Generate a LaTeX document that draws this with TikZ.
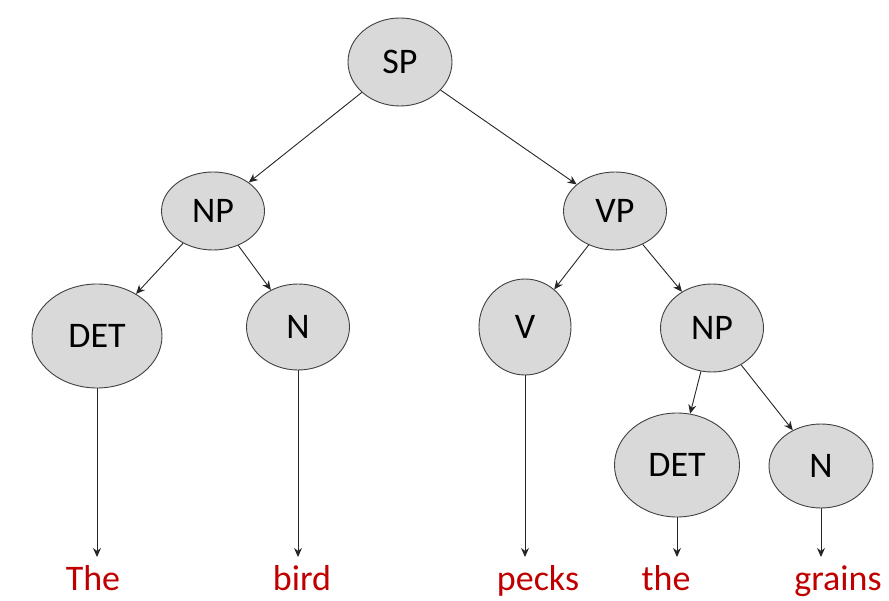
\documentclass[tikz,border=0pt]{standalone}
\usepackage{fontspec}
\setmainfont{Carlito}
\usetikzlibrary{arrows.meta,shapes.geometric}
\definecolor{nodefill}{HTML}{D9D9D9}
\definecolor{wordred}{HTML}{C00000}
\tikzset{
  cat/.style={ellipse, draw=black!75, line width=0.9pt, fill=nodefill, inner sep=0pt, font=\fontsize{36}{36}\selectfont},
  word/.style={text=wordred, inner sep=0pt, anchor=base, font=\fontsize{36}{36}\selectfont},
  edge/.style={draw=black!85, line width=0.9pt, -{Stealth[length=9pt,width=8pt]}}
}
\begin{document}
\begin{tikzpicture}[x=1pt,y=-1pt]
\useasboundingbox (0,0) rectangle (889,601);
\node[cat, minimum width=104pt, minimum height=88pt] (sp) at (400,62) {SP};
\node[cat, minimum width=103pt, minimum height=78pt] (np1) at (213,211) {NP};
\node[cat, minimum width=103pt, minimum height=78pt] (vp) at (615,211) {VP};
\node[cat, minimum width=130pt, minimum height=104pt] (det1) at (97,336) {DET};
\node[cat, minimum width=103pt, minimum height=86pt] (n1) at (298,327) {N};
\node[cat, minimum width=92pt, minimum height=96pt] (v) at (525,327) {V};
\node[cat, minimum width=103pt, minimum height=88pt] (np2) at (712,328) {NP};
\node[cat, minimum width=125pt, minimum height=104pt] (det2) at (677,465) {DET};
\node[cat, minimum width=104pt, minimum height=84pt] (n2) at (821,466) {N};
\node[word] (w1) at (93,590) {The};
\node[word] (w2) at (302,590) {bird};
\node[word] (w3) at (538,590) {pecks};
\node[word] (w4) at (666,590) {the};
\node[word] (w5) at (838,590) {grains};
\coordinate (t1) at (97,557);
\coordinate (t2) at (298,557);
\coordinate (t3) at (525,557);
\coordinate (t4) at (677,557);
\coordinate (t5) at (821,557);
\draw[edge] (sp) -- (np1);
\draw[edge] (sp) -- (vp);
\draw[edge] (np1) -- (det1);
\draw[edge] (np1) -- (n1);
\draw[edge] (vp) -- (v);
\draw[edge] (vp) -- (np2);
\draw[edge] (np2) -- (det2);
\draw[edge] (np2) -- (n2);
\draw[edge] (det1.south) -- (t1);
\draw[edge] (n1.south) -- (t2);
\draw[edge] (v.south) -- (t3);
\draw[edge] (det2.south) -- (t4);
\draw[edge] (n2.south) -- (t5);
\end{tikzpicture}
\end{document}
